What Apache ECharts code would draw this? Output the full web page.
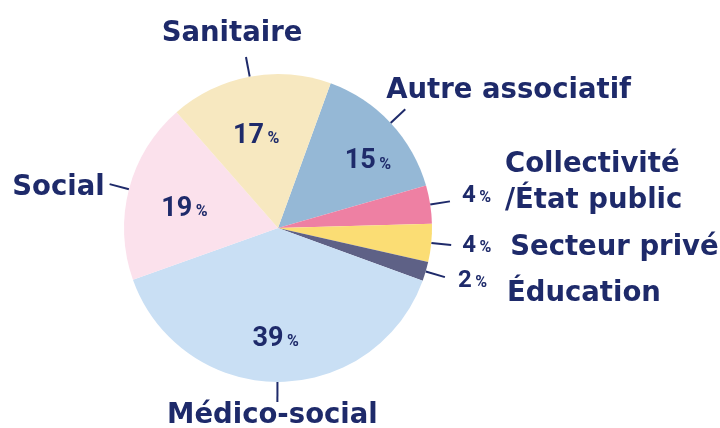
<!DOCTYPE html>
<html>
<head>
<meta charset="utf-8">
<script src="https://cdn.jsdelivr.net/npm/echarts@6/dist/echarts.min.js"></script>
<style>html,body{margin:0;padding:0;background:#fff}#c{width:720px;height:428px}</style>
</head>
<body>
<div id="c"></div>
<script>
// ---- data ----
const categories = ['Autre associatif', 'Collectivité\n/État public', 'Secteur privé', 'Éducation', 'Médico-social', 'Social', 'Sanitaire'];
const values = [15, 4, 4, 2, 39, 19, 17];
const colors = ['#95b8d6', '#ee80a3', '#fbdd74', '#5e6186', '#c9dff4', '#fbe1ec', '#f7e8c0'];

// ---- style ----
const NAVY = '#1e2a6a';
const NAME_FONT = 'DejaVu Sans';
const NUM_FONT = 'Roboto';
const CENTER = [278, 228];
const RADIUS = 154;
const START = 70;
const GAP = 0;
const BIG = 10; // slices with inside percentage labels

const nameLayout = [
  {dx: -19, dy: -18, align: 'left', va: 'middle'},
  {dx: 55, dy: -19, align: 'left', va: 'middle'},
  {dx: 59, dy: 3, align: 'left', va: 'middle'},
  {dx: 62, dy: 17, align: 'left', va: 'middle'},
  {dx: -5, dy: 14, align: 'center', va: 'middle'},
  {dx: -5, dy: 4, align: 'right', va: 'middle'},
  {dx: -14, dy: -23, align: 'center', va: 'middle'}
];
const pctLayout = [null, {dx: 12, dy: -5}, {dx: 11, dy: 1}, {dx: 13, dy: 4}, null, null, null];
const insideOffset = [[11, 7], null, null, null, [-2, 3], [11, 8], [-2, 14]];

function shortLine(pts) {
  const p0 = pts[0], p1 = pts[1];
  const vx = p1[0] - p0[0], vy = p1[1] - p0[1];
  const len = Math.hypot(vx, vy) || 1;
  return [[p0[0] + vx / len * GAP, p0[1] + vy / len * GAP], [p1[0], p1[1]]];
}

const numRich = {
  n: {fontFamily: NUM_FONT, fontWeight: 'bold', fontSize: 27, color: NAVY, verticalAlign: 'bottom'},
  s: {fontFamily: NUM_FONT, fontSize: 14, color: NAVY, verticalAlign: 'bottom'},
  p: {fontFamily: NUM_FONT, fontWeight: 'bold', fontSize: 16, color: NAVY, verticalAlign: 'bottom', padding: [0, 0, 2, 0]}
};
const smallRich = {
  n: Object.assign({}, numRich.n, {fontSize: 24}),
  s: numRich.s,
  p: numRich.p
};

const base = {
  type: 'pie', center: CENTER, radius: RADIUS, startAngle: START, clockwise: true,
  avoidLabelOverlap: false, silent: true, animation: false
};

// slices + small-slice percentage labels
const sliceData = values.map((v, i) => ({
  value: v, name: categories[i],
  itemStyle: {color: colors[i]},
  label: {show: v < BIG},
  labelLine: {show: v < BIG}
}));

// inside percentage labels (larger invisible pie so labels sit further out)
const insideData = values.map((v, i) => ({
  value: v, name: categories[i],
  itemStyle: {color: 'rgba(0,0,0,0)'},
  label: {show: v >= BIG}
}));

// category names
const nameData = values.map((v, i) => ({
  value: v, name: categories[i],
  itemStyle: {color: 'rgba(0,0,0,0)'},
  labelLine: {show: true, lineStyle: {color: v >= BIG ? NAVY : 'rgba(0,0,0,0)'}}
}));

const option = {
  backgroundColor: '#ffffff',
  series: [
    Object.assign({}, base, {
      data: sliceData,
      label: {
        position: 'outside', color: NAVY, fontSize: 14,
        formatter: p => `{n|${p.value}}{s| }{p|%}`, rich: smallRich
      },
      labelLine: {length: 20, length2: 0, lineStyle: {color: NAVY, width: 2}},
      labelLayout: function (params) {
        const L = pctLayout[params.dataIndex];
        const pts = params.labelLinePoints;
        if (!L || !pts) return {};
        const p1 = pts[1];
        return {x: p1[0] + L.dx, y: p1[1] + L.dy, align: 'left', verticalAlign: 'middle', labelLinePoints: shortLine(pts)};
      }
    }),
    Object.assign({}, base, {
      radius: 210,
      data: insideData,
      label: {
        position: 'inside', color: NAVY, fontSize: 14,
        formatter: p => `{n|${p.value}}{s| }{p|%}`, rich: numRich
      },
      labelLine: {show: false},
      labelLayout: function (params) {
        const o = insideOffset[params.dataIndex];
        return o ? {dx: o[0], dy: o[1]} : {};
      }
    }),
    Object.assign({}, base, {
      data: nameData,
      label: {
        position: 'outside', color: NAVY,
        fontFamily: NAME_FONT, fontWeight: 'bold', fontSize: 27.5, lineHeight: 36,
        formatter: p => p.name
      },
      labelLine: {length: 20, length2: 0, lineStyle: {color: NAVY, width: 2}},
      labelLayout: function (params) {
        const L = nameLayout[params.dataIndex];
        const pts = params.labelLinePoints;
        if (!pts) return {};
        const p1 = pts[1];
        return {x: p1[0] + L.dx, y: p1[1] + L.dy, align: L.align, verticalAlign: L.va, labelLinePoints: shortLine(pts)};
      }
    })
  ]
};

const chart = echarts.init(document.getElementById('c'), null, {renderer: 'canvas'});
chart.setOption(option);
</script>
</body>
</html>
